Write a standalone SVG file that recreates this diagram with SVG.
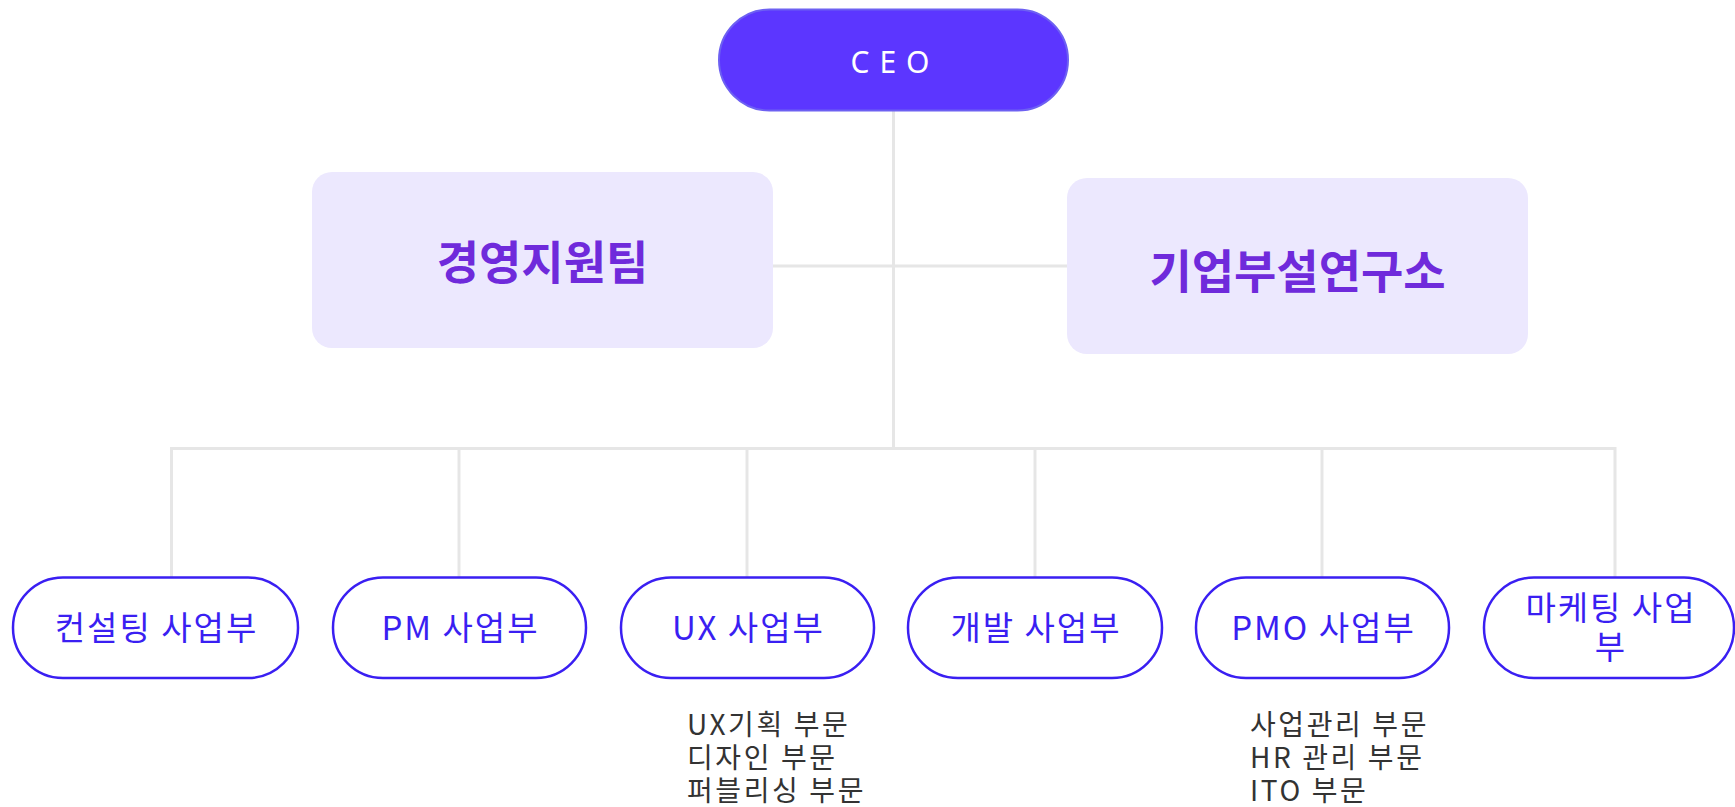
<svg xmlns="http://www.w3.org/2000/svg" width="1735" height="807" viewBox="0 0 1735 807">
<style>
.conn{stroke:#e6e6e6;stroke-width:3;fill:none}
.dept{fill:#ffffff;stroke:#3a1ff2;stroke-width:2.5}
.dtxt{font-family:"Noto Sans CJK KR","Noto Sans",sans-serif;font-size:33px;letter-spacing:2px;fill:#3a1ff2;text-anchor:middle}
.team{fill:#ece8fe}
.ttxt{font-family:"Noto Sans CJK KR",sans-serif;font-size:46px;font-weight:700;fill:#6f2adb;text-anchor:middle}
.sub{font-family:"Noto Sans CJK KR","Noto Sans",sans-serif;font-size:28px;letter-spacing:2.6px;fill:#333333}
</style>
<rect width="1735" height="807" fill="#ffffff"/>
<g id="connectors">
<line class="conn" x1="893.5" y1="111" x2="893.5" y2="448.5"/>
<line class="conn" x1="773" y1="266" x2="1067" y2="266"/>
<path class="conn" d="M171.5 577 V448.5 H1615 V577"/>
<line class="conn" x1="459" y1="448.5" x2="459" y2="577"/>
<line class="conn" x1="747" y1="448.5" x2="747" y2="577"/>
<line class="conn" x1="1035" y1="448.5" x2="1035" y2="577"/>
<line class="conn" x1="1322" y1="448.5" x2="1322" y2="577"/>
</g>
<g id="ceo">
<rect x="719" y="9.5" width="349" height="101" rx="50.5" fill="#5c36ff" stroke="#6d60f2" stroke-width="2"/>
<text x="895" y="73" font-family="'Noto Sans','Open Sans',sans-serif" font-size="30" letter-spacing="10" fill="#ffffff" text-anchor="middle">CEO</text>
</g>
<g id="management-support">
<rect class="team" x="312" y="172" width="461" height="176" rx="20"/>
<text class="ttxt" x="542.5" y="279">경영지원팀</text>
</g>
<g id="research-lab">
<rect class="team" x="1067" y="178" width="461" height="176" rx="20"/>
<text class="ttxt" x="1297.5" y="288">기업부설연구소</text>
</g>
<g id="consulting">
<rect class="dept" x="13" y="577.5" width="285" height="100.5" rx="50"/>
<text class="dtxt" x="156.5" y="640">컨설팅 사업부</text>
</g>
<g id="pm">
<rect class="dept" x="333" y="577.5" width="253" height="100.5" rx="50"/>
<text class="dtxt" x="460.5" y="640">PM 사업부</text>
</g>
<g id="ux">
<rect class="dept" x="621" y="577.5" width="253" height="100.5" rx="50"/>
<text class="dtxt" x="748.5" y="640">UX 사업부</text>
<text class="sub"><tspan x="687" y="735">UX기획 부문</tspan><tspan x="687" y="768">디자인 부문</tspan><tspan x="687" y="801">퍼블리싱 부문</tspan></text>
</g>
<g id="dev">
<rect class="dept" x="908" y="577.5" width="254" height="100.5" rx="50"/>
<text class="dtxt" x="1036" y="640">개발 사업부</text>
</g>
<g id="pmo">
<rect class="dept" x="1196" y="577.5" width="253" height="100.5" rx="50"/>
<text class="dtxt" x="1323.5" y="640">PMO 사업부</text>
<text class="sub"><tspan x="1250" y="735">사업관리 부문</tspan><tspan x="1250" y="768">HR 관리 부문</tspan><tspan x="1250" y="801">ITO 부문</tspan></text>
</g>
<g id="marketing">
<rect class="dept" x="1484" y="577.5" width="250" height="100.5" rx="50"/>
<text class="dtxt"><tspan x="1611" y="620">마케팅 사업</tspan><tspan x="1611" y="659">부</tspan></text>
</g>
</svg>
